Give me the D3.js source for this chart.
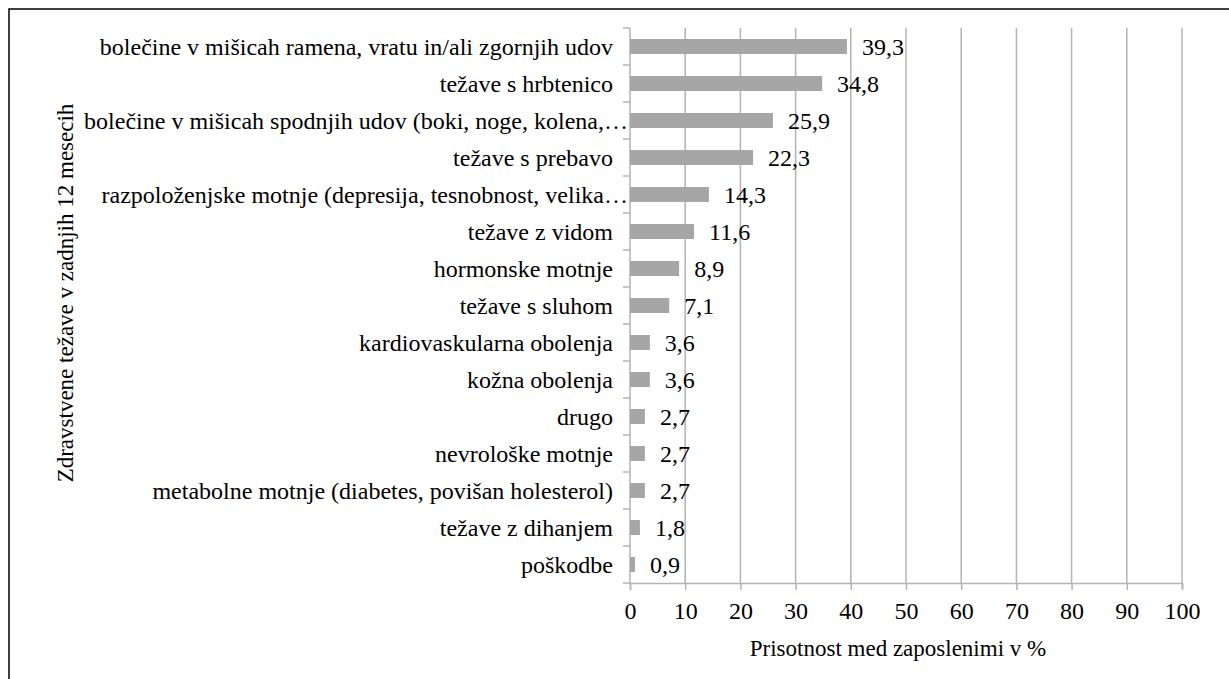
<!DOCTYPE html>
<html>
<head>
<meta charset="utf-8">
<script src="https://cdn.jsdelivr.net/npm/d3@7/dist/d3.min.js"></script>
<style>
  html, body { margin: 0; padding: 0; background: #fff; }
  svg { display: block; font-family: "Liberation Serif", "Times New Roman", serif; }
</style>
</head>
<body>
<svg id="chart" width="1229" height="679"></svg>
<script>
const categories = [
  "bolečine v mišicah ramena, vratu in/ali zgornjih udov",
  "težave s hrbtenico",
  "bolečine v mišicah spodnjih udov (boki, noge, kolena,…",
  "težave s prebavo",
  "razpoloženjske motnje (depresija, tesnobnost, velika…",
  "težave z vidom",
  "hormonske motnje",
  "težave s sluhom",
  "kardiovaskularna obolenja",
  "kožna obolenja",
  "drugo",
  "nevrološke motnje",
  "metabolne motnje (diabetes, povišan holesterol)",
  "težave z dihanjem",
  "poškodbe"
];
const values = [39.3, 34.8, 25.9, 22.3, 14.3, 11.6, 8.9, 7.1, 3.6, 3.6, 2.7, 2.7, 2.7, 1.8, 0.9];
const valueLabels = ["39,3", "34,8", "25,9", "22,3", "14,3", "11,6", "8,9", "7,1", "3,6", "3,6", "2,7", "2,7", "2,7", "1,8", "0,9"];
const xTicks = [0, 10, 20, 30, 40, 50, 60, 70, 80, 90, 100];
const xTitle = "Prisotnost med zaposlenimi v %";
const yTitle = "Zdravstvene težave v zadnjih 12 mesecih";

const svg = d3.select("#chart");
const pL = 630, pR = 1182, pT = 28, pB = 583;
const gridColor = "#b3b3b3";
const barColor = "#a6a6a6";
const fs = 24;

// frame (left + top)
svg.append("path").attr("d", "M9,679 V9 H1229")
  .attr("fill", "none").attr("stroke", "#000").attr("stroke-width", 1.5);

const x = d3.scaleLinear().domain([0, 100]).range([pL, pR]);
const yb = d3.scaleBand().domain(categories).range([pT, pB]);

// gridlines
svg.append("g").selectAll("line").data(xTicks.filter(d => d > 0)).join("line")
  .attr("x1", d => x(d)).attr("x2", d => x(d))
  .attr("y1", pT).attr("y2", pB)
  .attr("stroke", gridColor).attr("stroke-width", 1.5);

// x axis
const xAxis = d3.axisBottom(x).tickValues(xTicks).tickSize(7).tickPadding(12)
  .tickFormat(d => String(d));
const gx = svg.append("g").attr("transform", `translate(0,${pB})`).call(xAxis);
gx.select(".domain").attr("stroke", gridColor).attr("stroke-width", 1.5);
gx.selectAll(".tick line").attr("stroke", gridColor).attr("stroke-width", 1.5);
gx.selectAll(".tick text").attr("font-size", fs).attr("fill", "#000")
  .attr("font-family", "Liberation Serif");

// y axis line and ticks at band boundaries
svg.append("line").attr("x1", pL).attr("x2", pL).attr("y1", pT).attr("y2", pB)
  .attr("stroke", gridColor).attr("stroke-width", 1.5);
const bounds = categories.map(c => yb(c)).concat([pB]);
svg.append("g").selectAll("line").data(bounds).join("line")
  .attr("x1", pL - 7).attr("x2", pL)
  .attr("y1", d => d).attr("y2", d => d)
  .attr("stroke", gridColor).attr("stroke-width", 1.5);

// category labels
svg.append("g").selectAll("text").data(categories).join("text")
  .attr("x", d => d.endsWith("…") ? 628 : 613)
  .attr("y", d => yb(d) + yb.bandwidth() / 2)
  .attr("dy", "0.35em")
  .attr("text-anchor", "end")
  .attr("font-size", fs)
  .attr("fill", "#000")
  .text(d => d);

// bars
svg.append("g").selectAll("rect").data(values).join("rect")
  .attr("x", x(0))
  .attr("y", (d, i) => yb(categories[i]) + (yb.bandwidth() - 15) / 2)
  .attr("width", d => x(d) - x(0))
  .attr("height", 15)
  .attr("fill", barColor);

// value labels
svg.append("g").selectAll("text").data(values).join("text")
  .attr("x", d => x(d) + 15)
  .attr("y", (d, i) => yb(categories[i]) + yb.bandwidth() / 2)
  .attr("dy", "0.35em")
  .attr("font-size", fs)
  .attr("fill", "#000")
  .text((d, i) => valueLabels[i]);

// axis titles
svg.append("text").attr("x", (pL + pR) / 2 - 8).attr("y", 656)
  .attr("text-anchor", "middle").attr("font-size", 23).attr("fill", "#000")
  .text(xTitle);
svg.append("text")
  .attr("transform", `translate(73,293) rotate(-90)`)
  .attr("text-anchor", "middle").attr("font-size", 23).attr("fill", "#000")
  .text(yTitle);
</script>
</body>
</html>
